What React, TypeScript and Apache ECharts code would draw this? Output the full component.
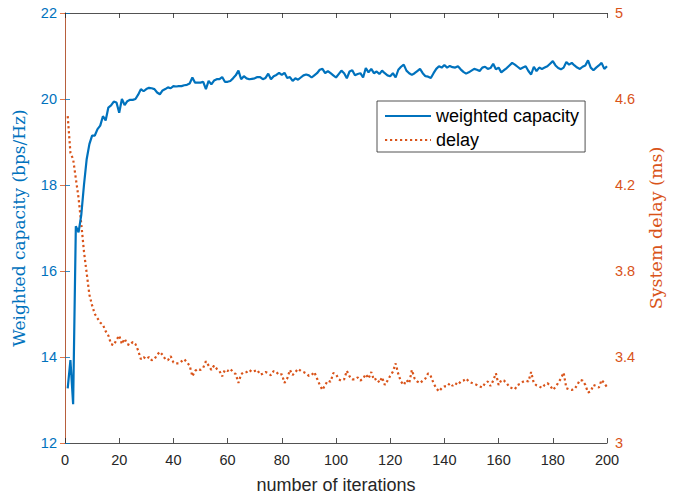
import React, { useEffect, useRef } from "react";
import * as echarts from "echarts";

// Weighted capacity (bps/Hz), iterations 1..200
const capacity: number[] = [
  13.27, 13.93, 12.9, 17.04, 16.9, 17.3, 18.0, 18.6, 18.95, 19.15,
  19.15, 19.3, 19.38, 19.6, 19.5, 19.8, 19.85, 19.94, 19.92, 19.68,
  20.0, 19.86, 19.95, 19.98, 19.98, 20.0, 20.1, 20.23, 20.18, 20.23,
  20.26, 20.25, 20.23, 20.15, 20.11, 20.2, 20.23, 20.27, 20.25, 20.3,
  20.29, 20.3, 20.3, 20.32, 20.33, 20.36, 20.5, 20.38, 20.38, 20.38,
  20.4, 20.23, 20.42, 20.34, 20.43, 20.46, 20.46, 20.51, 20.4, 20.4,
  20.42, 20.48, 20.55, 20.66, 20.46, 20.53, 20.48, 20.46, 20.47, 20.48,
  20.51, 20.51, 20.46, 20.49, 20.59, 20.46, 20.53, 20.56, 20.61, 20.56,
  20.61, 20.49, 20.51, 20.42, 20.48, 20.45, 20.5, 20.55, 20.57, 20.55,
  20.5, 20.55, 20.6, 20.68, 20.7, 20.6, 20.65, 20.6, 20.55, 20.5,
  20.58, 20.66, 20.6, 20.48, 20.64, 20.67, 20.55, 20.58, 20.6, 20.5,
  20.72, 20.62, 20.7, 20.6, 20.64, 20.58, 20.66, 20.6, 20.55, 20.53,
  20.6, 20.5, 20.68, 20.75, 20.8, 20.66, 20.6, 20.56, 20.6, 20.65,
  20.7, 20.6, 20.53, 20.52, 20.49, 20.6, 20.7, 20.76, 20.73, 20.79,
  20.73, 20.77, 20.74, 20.73, 20.76, 20.69, 20.63, 20.59, 20.62, 20.66,
  20.7, 20.68, 20.65, 20.73, 20.75, 20.7, 20.72, 20.82, 20.69, 20.73,
  20.62, 20.67, 20.72, 20.78, 20.84, 20.8, 20.75, 20.7, 20.73, 20.76,
  20.65, 20.57, 20.75, 20.65, 20.73, 20.7, 20.73, 20.76, 20.82, 20.88,
  20.78, 20.72, 20.69, 20.73, 20.86, 20.8, 20.84, 20.78, 20.73, 20.7,
  20.75, 20.78, 20.9, 20.73, 20.67, 20.73, 20.78, 20.84, 20.7, 20.76,
];

// System delay (ms), iterations 1..200
const delay: number[] = [
  4.52, 4.35, 4.32, 4.23, 4.14, 4.02, 3.89, 3.79, 3.69, 3.64,
  3.6, 3.58, 3.56, 3.55, 3.52, 3.5, 3.46, 3.455, 3.48, 3.5,
  3.46, 3.485, 3.46, 3.455, 3.47, 3.46, 3.43, 3.39, 3.4, 3.39,
  3.4, 3.385, 3.39, 3.41, 3.424, 3.41, 3.39, 3.385, 3.404, 3.375,
  3.37, 3.37, 3.38, 3.39, 3.375, 3.36, 3.31, 3.335, 3.345, 3.34,
  3.35, 3.38, 3.36, 3.34, 3.36, 3.345, 3.335, 3.31, 3.34, 3.335,
  3.345, 3.33, 3.32, 3.28, 3.32, 3.33, 3.33, 3.34, 3.33, 3.335,
  3.34, 3.318, 3.322, 3.33, 3.324, 3.315, 3.335, 3.33, 3.316, 3.32,
  3.28, 3.3, 3.34, 3.316, 3.33, 3.345, 3.335, 3.33, 3.324, 3.312,
  3.316, 3.33, 3.3, 3.27, 3.247, 3.27, 3.29, 3.285, 3.325, 3.32,
  3.296, 3.29, 3.296, 3.336, 3.31, 3.296, 3.296, 3.305, 3.29, 3.3,
  3.32, 3.3, 3.33, 3.293, 3.3, 3.281, 3.306, 3.27, 3.29, 3.312,
  3.332, 3.37, 3.32, 3.285, 3.27, 3.293, 3.278, 3.34, 3.3, 3.286,
  3.278, 3.29, 3.3, 3.324, 3.31, 3.278, 3.255, 3.24, 3.255, 3.263,
  3.263, 3.278, 3.266, 3.278, 3.27, 3.286, 3.29, 3.3, 3.286, 3.28,
  3.275, 3.27, 3.263, 3.258, 3.278, 3.286, 3.265, 3.29, 3.324, 3.27,
  3.293, 3.29, 3.278, 3.26, 3.255, 3.25, 3.27, 3.275, 3.285, 3.29,
  3.286, 3.33, 3.278, 3.268, 3.263, 3.256, 3.27, 3.278, 3.268, 3.247,
  3.26, 3.28, 3.3, 3.327, 3.255, 3.25, 3.247, 3.25, 3.27, 3.293,
  3.29, 3.27, 3.235, 3.24, 3.27, 3.265, 3.258, 3.293, 3.278, 3.26,
];

const seriesNames = ["weighted capacity", "delay"];
const xTitle = "number of iterations";
const leftTitle = "Weighted capacity (bps/Hz)";
const rightTitle = "System delay (ms)";

const BLUE = "#0072BD";
const ORANGE = "#D95319";
const DARK = "#262626";
const SANS = "'Liberation Sans', Arial, Helvetica, sans-serif";
const SERIF = "'DejaVu Serif', 'Liberation Serif', serif";

export default function App() {
  const ref = useRef<HTMLDivElement>(null);

  useEffect(() => {
    document.body.style.margin = "0";
    document.documentElement.style.overflow = "hidden";
    document.body.style.overflow = "hidden";
    if (!ref.current) return;
    const chart = echarts.init(ref.current, undefined, { renderer: "svg", width: 673, height: 499 });
    const xAxisCommon = {
      type: "value" as const,
      min: 0,
      max: 200,
      interval: 20,
      splitLine: { show: false },
      axisLine: { show: true, lineStyle: { color: DARK, width: 0.8 } },
      axisTick: { show: true, inside: true, length: 5, lineStyle: { color: DARK, width: 0.8 } },
    };
    chart.setOption({
      animation: false,
      backgroundColor: "#ffffff",
      grid: { left: 65, right: 59, top: 13, bottom: 52, containLabel: false },
      legend: {
        orient: "vertical",
        left: 377,
        top: 101,
        data: seriesNames,
        itemWidth: 46,
        itemHeight: 13,
        itemGap: 6,
        padding: [6, 6, 3, 7],
        borderColor: DARK,
        borderWidth: 0.8,
        backgroundColor: "#ffffff",
        itemStyle: { color: "transparent", borderColor: "transparent", borderWidth: 0, opacity: 0 },
        textStyle: { fontFamily: SANS, fontSize: 18, color: "#000" },
      },
      xAxis: [
        {
          ...xAxisCommon,
          position: "bottom",
          name: xTitle,
          nameLocation: "middle",
          nameGap: 33,
          nameTextStyle: { fontFamily: SANS, fontSize: 18, color: DARK },
          axisLabel: { color: DARK, fontFamily: SANS, fontSize: 14.5, margin: 9 },
        },
        {
          ...xAxisCommon,
          position: "top",
          axisLabel: { show: false },
        },
      ],
      yAxis: [
        {
          type: "value",
          position: "left",
          min: 12,
          max: 22,
          interval: 2,
          splitLine: { show: false },
          axisLine: { show: true, lineStyle: { color: BLUE, width: 0.8 } },
          axisTick: { show: true, inside: true, length: 5, lineStyle: { color: BLUE, width: 0.8 } },
          axisLabel: { color: BLUE, fontFamily: SANS, fontSize: 14.5, margin: 8 },
          name: leftTitle,
          nameLocation: "middle",
          nameGap: 38,
          nameTextStyle: { fontFamily: SERIF, fontSize: 17, color: BLUE },
        },
        {
          type: "value",
          position: "right",
          min: 3,
          max: 5,
          interval: 0.4,
          splitLine: { show: false },
          axisLine: { show: true, lineStyle: { color: ORANGE, width: 0.8 } },
          axisTick: { show: true, inside: true, length: 5, lineStyle: { color: ORANGE, width: 0.8 } },
          axisLabel: { color: ORANGE, fontFamily: SANS, fontSize: 14.5, margin: 8 },
          name: rightTitle,
          nameLocation: "middle",
          nameGap: 40,
          nameRotate: 90,
          nameTextStyle: { fontFamily: SERIF, fontSize: 17.5, color: ORANGE },
        },
      ],
      series: [
        {
          name: seriesNames[0],
          type: "line",
          xAxisIndex: 0,
          yAxisIndex: 0,
          data: capacity.map((v, i) => [i + 1, v]),
          showSymbol: false,
          symbol: "none",
          lineStyle: { color: BLUE, width: 2.2 },
          itemStyle: { color: BLUE },
          z: 3,
        },
        {
          name: seriesNames[1],
          type: "line",
          xAxisIndex: 0,
          yAxisIndex: 1,
          data: delay.map((v, i) => [i + 1, v]),
          showSymbol: false,
          symbol: "none",
          lineStyle: { color: ORANGE, width: 2.2, type: [2.2, 2.8], cap: "butt" },
          itemStyle: { color: ORANGE },
          z: 2,
        },
      ],
    });
    return () => chart.dispose();
  }, []);

  return <div ref={ref} style={{ width: 673, height: 499, background: "#fff" }} />;
}
